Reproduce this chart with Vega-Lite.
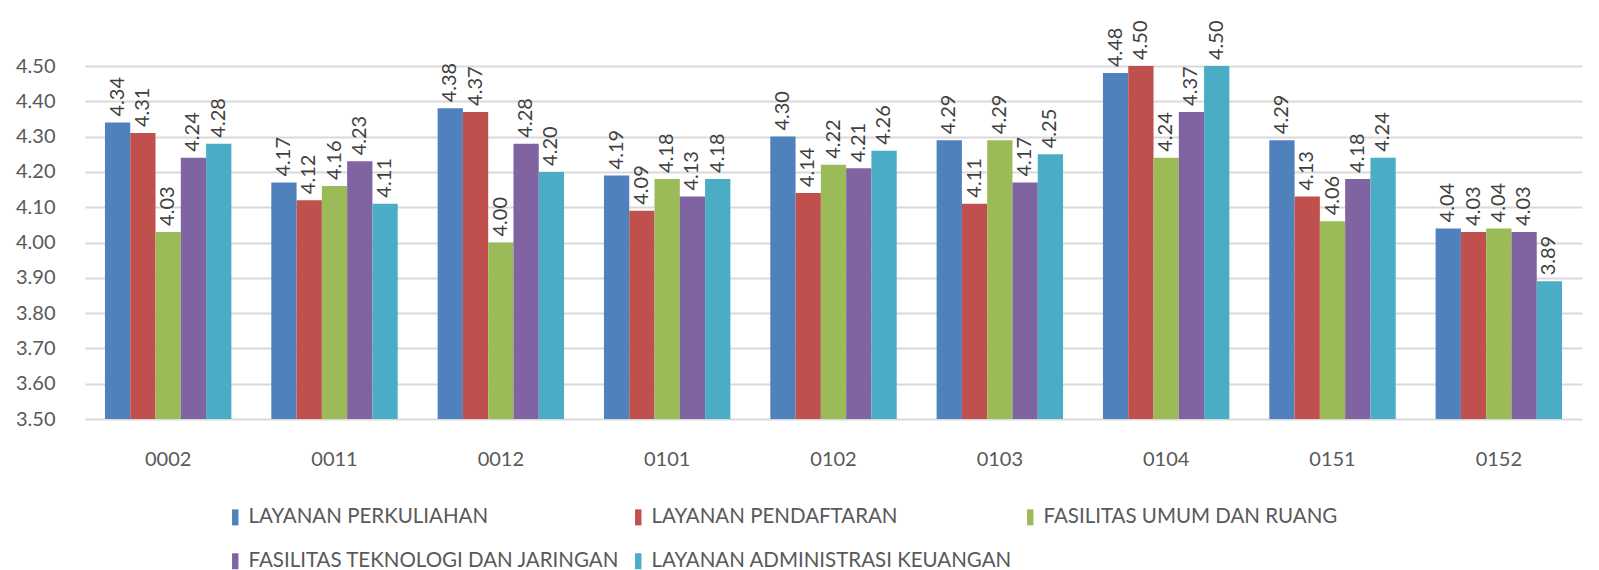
{
  "$schema": "https://vega.github.io/schema/vega-lite/v6.json",
  "width": 1497,
  "height": 353,
  "autosize": {"type": "none"},
  "padding": {"left": 85, "top": 66, "right": 17, "bottom": 151},
  "background": "white",
  "title": {"text": "FAKULTAS EKONOMI DAN BISNIS", "frame": "group", "anchor": "middle", "offset": 61, "fontSize": 26, "font": "Lato", "fontWeight": "normal", "color": "#595959", "baseline": "alphabetic"},
  "config": {"view": {"stroke": null}},
  "data": {"values": [
    {"kode": "0002", "aspek": "LAYANAN PERKULIAHAN", "nilai": 4.34},
    {"kode": "0002", "aspek": "LAYANAN PENDAFTARAN", "nilai": 4.31},
    {"kode": "0002", "aspek": "FASILITAS UMUM DAN RUANG", "nilai": 4.03},
    {"kode": "0002", "aspek": "FASILITAS TEKNOLOGI DAN JARINGAN", "nilai": 4.24},
    {"kode": "0002", "aspek": "LAYANAN ADMINISTRASI KEUANGAN", "nilai": 4.28},
    {"kode": "0011", "aspek": "LAYANAN PERKULIAHAN", "nilai": 4.17},
    {"kode": "0011", "aspek": "LAYANAN PENDAFTARAN", "nilai": 4.12},
    {"kode": "0011", "aspek": "FASILITAS UMUM DAN RUANG", "nilai": 4.16},
    {"kode": "0011", "aspek": "FASILITAS TEKNOLOGI DAN JARINGAN", "nilai": 4.23},
    {"kode": "0011", "aspek": "LAYANAN ADMINISTRASI KEUANGAN", "nilai": 4.11},
    {"kode": "0012", "aspek": "LAYANAN PERKULIAHAN", "nilai": 4.38},
    {"kode": "0012", "aspek": "LAYANAN PENDAFTARAN", "nilai": 4.37},
    {"kode": "0012", "aspek": "FASILITAS UMUM DAN RUANG", "nilai": 4.00},
    {"kode": "0012", "aspek": "FASILITAS TEKNOLOGI DAN JARINGAN", "nilai": 4.28},
    {"kode": "0012", "aspek": "LAYANAN ADMINISTRASI KEUANGAN", "nilai": 4.20},
    {"kode": "0101", "aspek": "LAYANAN PERKULIAHAN", "nilai": 4.19},
    {"kode": "0101", "aspek": "LAYANAN PENDAFTARAN", "nilai": 4.09},
    {"kode": "0101", "aspek": "FASILITAS UMUM DAN RUANG", "nilai": 4.18},
    {"kode": "0101", "aspek": "FASILITAS TEKNOLOGI DAN JARINGAN", "nilai": 4.13},
    {"kode": "0101", "aspek": "LAYANAN ADMINISTRASI KEUANGAN", "nilai": 4.18},
    {"kode": "0102", "aspek": "LAYANAN PERKULIAHAN", "nilai": 4.30},
    {"kode": "0102", "aspek": "LAYANAN PENDAFTARAN", "nilai": 4.14},
    {"kode": "0102", "aspek": "FASILITAS UMUM DAN RUANG", "nilai": 4.22},
    {"kode": "0102", "aspek": "FASILITAS TEKNOLOGI DAN JARINGAN", "nilai": 4.21},
    {"kode": "0102", "aspek": "LAYANAN ADMINISTRASI KEUANGAN", "nilai": 4.26},
    {"kode": "0103", "aspek": "LAYANAN PERKULIAHAN", "nilai": 4.29},
    {"kode": "0103", "aspek": "LAYANAN PENDAFTARAN", "nilai": 4.11},
    {"kode": "0103", "aspek": "FASILITAS UMUM DAN RUANG", "nilai": 4.29},
    {"kode": "0103", "aspek": "FASILITAS TEKNOLOGI DAN JARINGAN", "nilai": 4.17},
    {"kode": "0103", "aspek": "LAYANAN ADMINISTRASI KEUANGAN", "nilai": 4.25},
    {"kode": "0104", "aspek": "LAYANAN PERKULIAHAN", "nilai": 4.48},
    {"kode": "0104", "aspek": "LAYANAN PENDAFTARAN", "nilai": 4.50},
    {"kode": "0104", "aspek": "FASILITAS UMUM DAN RUANG", "nilai": 4.24},
    {"kode": "0104", "aspek": "FASILITAS TEKNOLOGI DAN JARINGAN", "nilai": 4.37},
    {"kode": "0104", "aspek": "LAYANAN ADMINISTRASI KEUANGAN", "nilai": 4.50},
    {"kode": "0151", "aspek": "LAYANAN PERKULIAHAN", "nilai": 4.29},
    {"kode": "0151", "aspek": "LAYANAN PENDAFTARAN", "nilai": 4.13},
    {"kode": "0151", "aspek": "FASILITAS UMUM DAN RUANG", "nilai": 4.06},
    {"kode": "0151", "aspek": "FASILITAS TEKNOLOGI DAN JARINGAN", "nilai": 4.18},
    {"kode": "0151", "aspek": "LAYANAN ADMINISTRASI KEUANGAN", "nilai": 4.24},
    {"kode": "0152", "aspek": "LAYANAN PERKULIAHAN", "nilai": 4.04},
    {"kode": "0152", "aspek": "LAYANAN PENDAFTARAN", "nilai": 4.03},
    {"kode": "0152", "aspek": "FASILITAS UMUM DAN RUANG", "nilai": 4.04},
    {"kode": "0152", "aspek": "FASILITAS TEKNOLOGI DAN JARINGAN", "nilai": 4.03},
    {"kode": "0152", "aspek": "LAYANAN ADMINISTRASI KEUANGAN", "nilai": 3.89}
  ]},
  "encoding": {
    "x": {"field": "kode", "type": "nominal", "sort": null,
      "scale": {"paddingInner": 0.24, "paddingOuter": 0.12},
      "axis": {"title": null, "labelAngle": 0, "labelFont": "Lato", "labelFontSize": 20, "labelColor": "#595959", "labelPadding": 30, "domain": false, "ticks": false, "grid": false}},
    "xOffset": {"field": "aspek", "type": "nominal", "sort": ["LAYANAN PERKULIAHAN", "LAYANAN PENDAFTARAN", "FASILITAS UMUM DAN RUANG", "FASILITAS TEKNOLOGI DAN JARINGAN", "LAYANAN ADMINISTRASI KEUANGAN"], "scale": {"paddingInner": 0}},
    "y": {"field": "nilai", "type": "quantitative",
      "scale": {"domain": [3.5, 4.5], "zero": false, "nice": false},
      "axis": {"title": null, "values": [3.5, 3.6, 3.7, 3.8, 3.9, 4.0, 4.1, 4.2, 4.3, 4.4, 4.5], "format": ".2f", "labelFont": "Lato", "labelFontSize": 20, "labelColor": "#595959", "labelPadding": 30, "domain": false, "ticks": false, "gridColor": "#D9D9D9", "gridWidth": 2}}
  },
  "layer": [
    {
      "mark": {"type": "bar"},
      "encoding": {
        "y2": {"datum": 3.5},
        "color": {"field": "aspek", "type": "nominal",
          "scale": {"domain": ["LAYANAN PERKULIAHAN", "LAYANAN PENDAFTARAN", "FASILITAS UMUM DAN RUANG", "FASILITAS TEKNOLOGI DAN JARINGAN", "LAYANAN ADMINISTRASI KEUANGAN"], "range": ["#4F81BD", "#C0504D", "#9BBB59", "#8064A2", "#4BACC6"]},
          "legend": {"title": null, "orient": "none", "legendX": 140, "legendY": 441, "direction": "horizontal", "columns": 3, "columnPadding": 8, "rowPadding": 23, "symbolType": "M-0.4,-1H0.4V1H-0.4Z", "symbolSize": 256, "symbolStrokeWidth": 0, "labelFont": "Lato", "labelFontSize": 20.5, "labelColor": "#595959", "labelLimit": 0, "labelOffset": 3}}
      }
    },
    {
      "mark": {"type": "text", "angle": 270, "align": "left", "baseline": "middle", "dx": 6, "font": "Lato", "fontSize": 20, "color": "#404040"},
      "encoding": {"text": {"field": "nilai", "type": "quantitative", "format": ".2f"}}
    }
  ]
}
